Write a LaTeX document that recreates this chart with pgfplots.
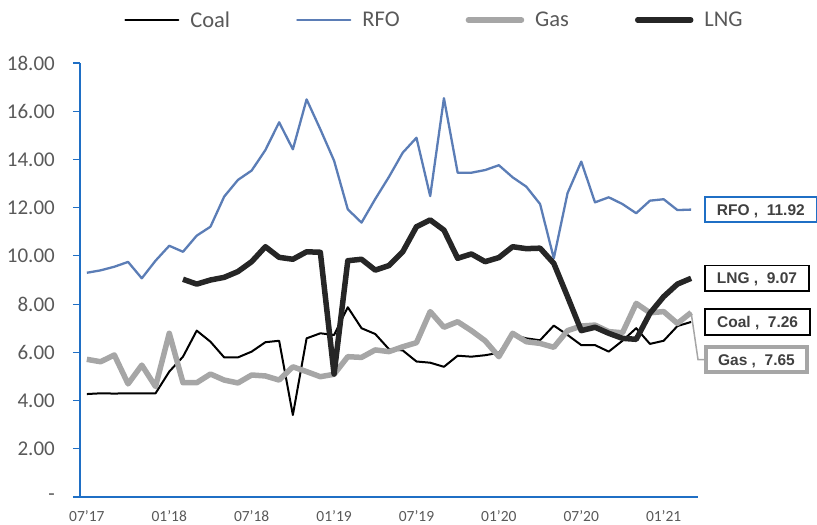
\documentclass[border=0pt]{standalone}
\usepackage{fontspec}
\setmainfont{Carlito}
\newfontfamily\arial{Liberation Sans}
\usepackage{pgfplots}
\usepackage{pgfplotstable}
\pgfplotsset{compat=1.18}

\definecolor{axblue}{HTML}{1F6FC5}
\definecolor{rfo}{HTML}{5B7DB6}
\definecolor{gas}{HTML}{A6A6A6}
\definecolor{lng}{HTML}{262626}
\definecolor{txt}{HTML}{595959}
\definecolor{lbl}{HTML}{404040}

% monthly values, Jul 2017 (0) to Mar 2021 (44)
\pgfplotstableread{
i  coal  rfo    gas
0  4.27  9.30   5.71
1  4.30  9.40   5.61
2  4.29  9.55   5.89
3  4.30  9.75   4.69
4  4.30  9.07   5.47
5  4.30  9.80   4.58
6  5.20  10.42  6.79
7  5.82  10.17  4.74
8  6.90  10.84  4.74
9  6.44  11.21  5.10
10 5.79  12.46  4.85
11 5.79  13.15  4.73
12 6.03  13.54  5.06
13 6.42  14.39  5.02
14 6.48  15.54  4.85
15 3.40  14.42  5.40
16 6.58  16.49  5.20
17 6.79  15.25  4.99
18 6.72  13.95  5.09
19 7.87  11.93  5.82
20 7.00  11.38  5.79
21 6.76  12.36  6.10
22 6.13  13.28  6.03
23 6.08  14.28  6.23
24 5.62  14.90  6.40
25 5.57  12.48  7.69
26 5.40  16.54  7.04
27 5.86  13.45  7.27
28 5.82  13.45  6.90
29 5.88  13.56  6.48
30 5.98  13.76  5.82
31 6.72  13.26  6.79
32 6.58  12.87  6.44
33 6.50  12.15  6.37
34 7.11  9.90   6.21
35 6.72  12.60  6.90
36 6.30  13.91  7.09
37 6.30  12.22  7.13
38 6.03  12.43  6.86
39 6.48  12.15  6.81
40 7.00  11.77  8.03
41 6.35  12.29  7.64
42 6.48  12.35  7.69
43 7.09  11.90  7.20
44 7.26  11.92  7.65
}\fuel

\pgfplotstableread{
i  lng
7  9.03
8  8.83
9  9.00
10 9.11
11 9.35
12 9.76
13 10.38
14 9.94
15 9.86
16 10.17
17 10.15
18 5.10
19 9.80
20 9.86
21 9.41
22 9.60
23 10.17
24 11.21
25 11.49
26 11.07
27 9.90
28 10.08
29 9.76
30 9.93
31 10.38
32 10.30
33 10.32
34 9.69
35 8.31
36 6.90
37 7.04
38 6.79
39 6.58
40 6.54
41 7.62
42 8.31
43 8.83
44 9.07
}\lngtab

\tikzset{lblbox/.style={draw, fill=white, anchor=west, xshift=13bp,
  inner xsep=12bp, inner ysep=7bp, text height=11.2bp, text depth=0bp,
  text=lbl, font=\arial\bfseries\fontsize{15.5bp}{18bp}\selectfont}}

\begin{document}
\begin{tikzpicture}
\useasboundingbox (-80bp,-28bp) rectangle (737bp,497bp);
\begin{axis}[
  scale only axis, width=618bp, height=434bp,
  xmin=-0.5, xmax=44.5, ymin=0, ymax=18,
  axis x line=bottom, axis y line=left,
  axis line style={-, axblue, line width=1.4bp},
  clip=false,
  xtick={0,6,...,42},
  xticklabels={07'17,01'18,07'18,01'19,07'19,01'20,07'20,01'21},
  xtick style={draw=none},
  ytick={0,2,...,18},
  yticklabels={-,2.00,4.00,6.00,8.00,10.00,12.00,14.00,16.00,18.00},
  ytick style={axblue, line width=1.2bp},
  tick align=outside, major tick length=7bp,
  yticklabel style={anchor=east, inner sep=0pt, xshift=-18bp,
    font=\fontsize{21bp}{25bp}\selectfont, text=txt},
  xticklabel style={anchor=north, inner sep=0pt, yshift=-6bp,
    font=\fontsize{15.5bp}{18bp}\selectfont, text=txt},
  legend columns=4,
  legend style={draw=none, at={(0.572,1.099)}, anchor=center,
    font=\fontsize{22.5bp}{26bp}\selectfont, text=txt,
    /tikz/every even column/.append style={column sep=66bp},
    nodes={inner sep=0pt, inner xsep=0bp}},
  legend image code/.code={\draw[#1, line cap=round] (0bp,0bp) -- (53bp,0bp);},
  every axis plot/.append style={line join=round},
]
\addplot[black, line width=2bp] table[x=i, y=coal] {\fuel};
\addlegendentry{\hspace{11bp}Coal}
\addplot[rfo, line width=2.3bp] table[x=i, y=rfo] {\fuel};
\addlegendentry{\hspace{11bp}RFO}
\addplot[gas, line width=5.5bp] table[x=i, y=gas] {\fuel};
\addlegendentry{\hspace{11bp}Gas}
\addplot[lng, line width=5.5bp] table[x=i, y=lng] {\lngtab};
\addlegendentry{\hspace{11bp}LNG}

\node[lblbox, draw=axblue, line width=1.5bp] at (axis cs:44,11.92) {RFO~,~~11.92};
\node[lblbox, draw=black, line width=1.5bp] at (axis cs:44,9.07) {LNG~,~~9.07};
\node[lblbox, draw=black, line width=2bp] at (axis cs:44,7.26) {Coal~,~~7.26};
\draw[gas, line width=1.5bp] (axis cs:44,7.65) -- ++(0,-47bp) -- ++(12bp,0);
\node[lblbox, draw=gas, line width=4bp, yshift=-47bp] at (axis cs:44,7.65) {Gas~,~~7.65};
\end{axis}
\end{tikzpicture}
\end{document}
